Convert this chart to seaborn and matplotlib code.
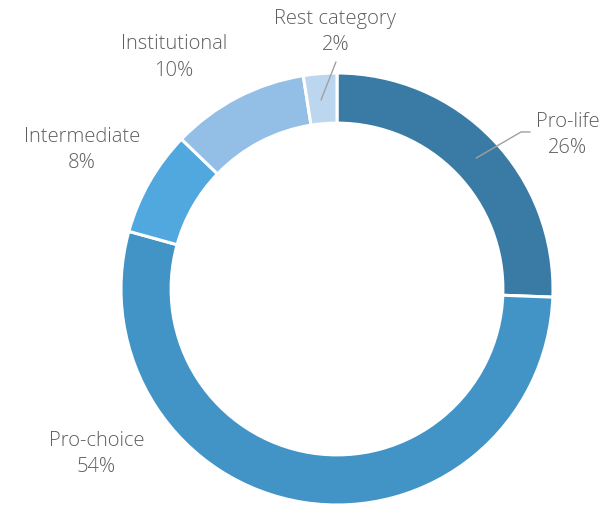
import matplotlib
matplotlib.use("Agg")
import matplotlib.pyplot as plt
import seaborn as sns

# data (clockwise from 12 o'clock)
categories = ["Pro-life", "Pro-choice", "Intermediate", "Institutional", "Rest category"]
shares = [25.6, 53.7, 7.9, 10.3, 2.5]          # slice sizes as drawn
pct_labels = ["26%", "54%", "8%", "10%", "2%"]  # printed labels
colors = ["#3a7ba6", "#4394c6", "#50a8de", "#93bfe7", "#bdd6ef"]

sns.set_theme(style="white")
plt.rcParams["font.family"] = ["Open Sans", "DejaVu Sans"]

fig = plt.figure(figsize=(6.12, 5.08), dpi=100)
# centre of the ring at pixel (337, 289), outer radius 216 px
ax = fig.add_axes([(337 - 216) / 612, (508 - 289 - 216) / 508, 432 / 612, 432 / 508])

wedges, _ = ax.pie(shares, colors=colors, startangle=90, counterclock=False,
                   radius=1.0, wedgeprops=dict(width=0.232, edgecolor="white", linewidth=2.2))
ax.set_xlim(-1, 1)
ax.set_ylim(-1, 1)
ax.set_aspect("equal")
ax.axis("off")

# label positions in data units (radius = 1)
label_pos = {
    "Pro-life": (1.069, 0.713),
    "Pro-choice": (-1.113, -0.764),
    "Intermediate": (-1.181, 0.644),
    "Institutional": (-0.755, 1.072),
    "Rest category": (-0.007, 1.190),
}
for name, pct in zip(categories, pct_labels):
    x, y = label_pos[name]
    ax.text(x, y, f"{name}\n{pct}", ha="center", va="center", fontsize=14.5,
            fontweight="light", color="#5e5e5e", linespacing=1.45, clip_on=False)

# leader lines
ax.plot([0.644, 0.852, 0.894], [0.606, 0.727, 0.727], color="#a0a0a0", lw=1, clip_on=False)
ax.plot([-0.074, -0.005], [0.875, 1.051], color="#a0a0a0", lw=1, clip_on=False)

fig.savefig("out.png", dpi=100)
